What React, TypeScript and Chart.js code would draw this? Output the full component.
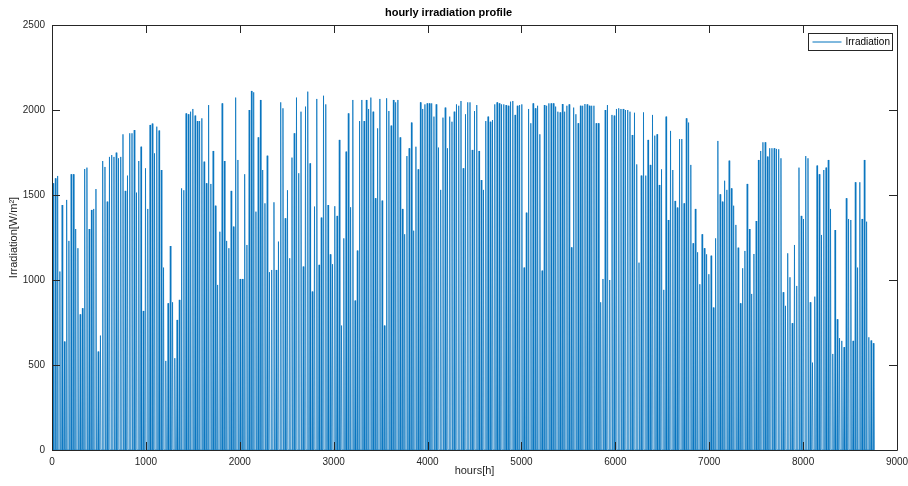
import React, { useEffect, useRef } from "react";
import { Chart, registerables } from "chart.js";

Chart.register(...registerables);

// Daily peak irradiation (W/m²), one value per day of the year
const dailyPeaks: number[] = [
  1569, 1598, 1612, 1050, 1441, 638, 1471, 1230, 1622, 1622, 1300, 1187, 798, 834, 1653, 1661, 1300, 1412, 1418, 1535,
  579, 673, 1700, 1665, 1461, 1724, 1735, 1724, 1749, 1716, 1724, 1857, 1524, 1614, 1863, 1863, 1882,
  1514, 1700, 1784, 818, 1657, 1418, 1912, 1920, 1745, 1902, 1879, 1647, 1073, 524, 863, 1200, 869, 540, 765, 883,
  1539, 1528, 1980, 1975, 1990, 2006, 1967, 1935, 1935, 1951, 1696, 1569, 2029, 1565, 1759, 1437,
  971, 1284, 2039, 1700, 1230, 1187, 1524, 1314, 2073, 1706, 1006, 1006, 1622, 1206, 2000, 2112, 2104, 1402, 1839, 2059,
  1647, 1451, 1731, 1046, 1059, 1457, 1059, 1226, 2045, 2010, 1363, 1528, 1128, 1720, 1863, 2073, 1628,
  1990, 1079, 2020, 2108, 1686, 932, 1432, 2065, 1089, 1367, 2084, 2033, 1441, 1151, 1093, 1434, 1377, 1824, 732, 1245,
  1755, 1980, 1428, 2059, 879, 1173, 1935, 2059, 1935, 2059, 2006, 2073, 1990, 1481, 1892, 2065, 1467,
  732, 2069, 1994, 1908, 2059, 2045, 2059, 1839, 1418, 1269, 1729, 1775, 1926, 1290, 1784, 1651, 2045, 2006, 2033, 2039,
  2039, 2039, 1961, 2033, 1779, 1530, 1955, 2014, 1775, 1961, 1931, 1990, 2033, 2025, 2053, 1657,
  1975, 2045, 2045, 1765, 1994, 2029, 1759, 1588, 1530, 1935, 1961, 1931, 1941, 2033, 2045, 2039, 2033, 2033, 2029, 2025,
  2049, 2053, 1971, 2025, 2029, 2033, 1073, 1396, 2006, 1922, 2039, 2010, 2025, 1857, 1055, 2029, 2025,
  2039, 2039, 2039, 2020, 1990, 1986, 2035, 1990, 2025, 2033, 1192, 2014, 1975, 1922, 2025, 2025, 2035, 2033, 2025, 2025,
  2025, 1922, 1922, 869, 1006, 2000, 2029, 1000, 1971, 1967, 2006, 2010, 2006, 2006, 2000, 2000, 1990,
  1853, 1984, 1680, 1102, 1614, 1986, 1614, 1824, 1677, 1971, 1849, 1857, 1559, 1651, 942, 1961, 1353, 1877, 1647, 1465,
  1426, 1829, 1829, 1451, 1951, 1926, 1677, 1216, 1418, 1163, 975, 1269, 1187, 1151, 1034, 1143, 838,
  1245, 1818, 1504, 1461, 1584, 1530, 1702, 1539, 1437, 1324, 1190, 863, 1069, 1171, 1565, 1300, 918, 1153, 1347, 1706,
  1759, 1810, 1810, 1726, 1775, 1775, 1775, 1771, 1769, 1716, 928, 848, 1157, 1016, 746, 1206,
  965, 1661, 1377, 1359, 1729, 1716, 869, 514, 902, 1673, 1622, 1265, 1647, 1661, 1706, 1418, 565, 1294, 769, 658,
  642, 605, 1481, 1359, 1353, 642, 1575, 1073, 1575, 1359, 1706, 1343, 663, 644, 628,
];

// Hours of the day at which the sun rises, peaks and sets (irradiation is 0 at night)
const SUNRISE_HOUR = 6;
const NOON_HOUR = 12;
const SUNSET_HOUR = 18;

const xTicks = [0, 1000, 2000, 3000, 4000, 5000, 6000, 7000, 8000, 9000];
const yTicks = [0, 500, 1000, 1500, 2000, 2500];

const seriesLabel = "Irradiation";
const titleText = "hourly irradiation profile";
const xTitle = "hours[h]";
const yTitle = "Irradiation[W/m²]";

const AXIS_COLOR = "#262626";
const LINE_COLOR = "#0072BD";
const FONT = "'Liberation Sans', Arial, Helvetica, sans-serif";

const framePlugin = {
  id: "matlabFrame",
  afterDatasetsDraw(chart: any) {
    const { ctx, chartArea } = chart;
    const { left, right, top, bottom } = chartArea;
    const xs = chart.scales.x;
    const ys = chart.scales.y;
    const TL = 8;
    ctx.save();
    ctx.strokeStyle = AXIS_COLOR;
    ctx.lineWidth = 1;
    ctx.beginPath();
    ctx.rect(Math.round(left) + 0.5, Math.round(top) + 0.5, Math.round(right - left), Math.round(bottom - top));
    ctx.stroke();
    ctx.beginPath();
    xTicks.forEach((v) => {
      const px = Math.round(xs.getPixelForValue(v)) + 0.5;
      ctx.moveTo(px, bottom);
      ctx.lineTo(px, bottom - TL);
      ctx.moveTo(px, top);
      ctx.lineTo(px, top + TL);
    });
    yTicks.forEach((v) => {
      const py = Math.round(ys.getPixelForValue(v)) + 0.5;
      ctx.moveTo(left, py);
      ctx.lineTo(left + TL, py);
      ctx.moveTo(right, py);
      ctx.lineTo(right - TL, py);
    });
    ctx.stroke();

    // legend box
    const bw = 84;
    const bh = 17;
    const bx = Math.round(right - 5 - bw) + 0.5;
    const by = Math.round(top + 8) + 0.5;
    ctx.fillStyle = "#ffffff";
    ctx.fillRect(bx, by, bw, bh);
    ctx.strokeStyle = AXIS_COLOR;
    ctx.strokeRect(bx, by, bw, bh);
    ctx.strokeStyle = LINE_COLOR;
    ctx.beginPath();
    ctx.moveTo(bx + 4, by + bh / 2);
    ctx.lineTo(bx + 33, by + bh / 2);
    ctx.stroke();
    ctx.fillStyle = "#000000";
    ctx.font = `10px ${FONT}`;
    ctx.textBaseline = "middle";
    ctx.textAlign = "left";
    ctx.fillText(chart.data.datasets[0].label, bx + 37, by + bh / 2 + 0.5);
    ctx.restore();
  },
};

export default function App() {
  const ref = useRef<HTMLCanvasElement | null>(null);

  useEffect(() => {
    document.body.style.margin = "0";
    const points: { x: number; y: number }[] = [];
    dailyPeaks.forEach((peak, d) => {
      points.push({ x: d * 24 + SUNRISE_HOUR, y: 0 });
      points.push({ x: d * 24 + NOON_HOUR, y: peak });
      points.push({ x: d * 24 + SUNSET_HOUR, y: 0 });
    });
    const chart = new Chart(ref.current as HTMLCanvasElement, {
      type: "line",
      data: {
        datasets: [
          {
            label: seriesLabel,
            data: points,
            borderColor: LINE_COLOR,
            borderWidth: 0.75,
            pointRadius: 0,
            tension: 0,
            fill: false,
          },
        ],
      },
      options: {
        animation: false,
        responsive: false,
        devicePixelRatio: 1,
        layout: { padding: { left: 0, right: 11, top: 0, bottom: 0 } },
        plugins: {
          legend: { display: false },
          tooltip: { enabled: false },
          title: {
            display: true,
            text: titleText,
            color: "#000000",
            font: { family: FONT, size: 11, weight: "bold" },
            padding: { top: 6, bottom: 5.8 },
          },
        },
        scales: {
          x: {
            type: "linear",
            min: 0,
            max: 9000,
            afterFit: (s: any) => {
              s.height = 36;
              s.paddingLeft = 0;
              s.paddingRight = 0;
            },
            afterBuildTicks: (s: any) => {
              s.ticks = xTicks.map((v) => ({ value: v }));
            },
            grid: { display: false, drawTicks: false },
            border: { display: false },
            ticks: {
              color: AXIS_COLOR,
              font: { family: FONT, size: 10 },
              padding: 6,
              maxRotation: 0,
              autoSkip: false,
              callback: (v: any) => String(v),
            },
            title: {
              display: true,
              text: xTitle,
              color: AXIS_COLOR,
              font: { family: FONT, size: 11 },
              padding: { top: 0, bottom: 8 },
            },
          },
          y: {
            type: "linear",
            min: 0,
            max: 2500,
            afterFit: (s: any) => {
              s.width = 52;
              s.paddingTop = 0;
              s.paddingBottom = 0;
            },
            afterBuildTicks: (s: any) => {
              s.ticks = yTicks.map((v) => ({ value: v }));
            },
            grid: { display: false, drawTicks: false },
            border: { display: false },
            ticks: {
              color: AXIS_COLOR,
              font: { family: FONT, size: 10 },
              padding: 7,
              autoSkip: false,
              callback: (v: any) => String(v),
            },
            title: {
              display: true,
              text: yTitle,
              color: AXIS_COLOR,
              font: { family: FONT, size: 11 },
              padding: { top: 7.4, bottom: 0 },
            },
          },
        },
      },
      plugins: [framePlugin],
    });
    return () => chart.destroy();
  }, []);

  return (
    <div style={{ width: 908, height: 486, background: "#ffffff" }}>
      <canvas ref={ref} width={908} height={486} style={{ display: "block" }} />
    </div>
  );
}
